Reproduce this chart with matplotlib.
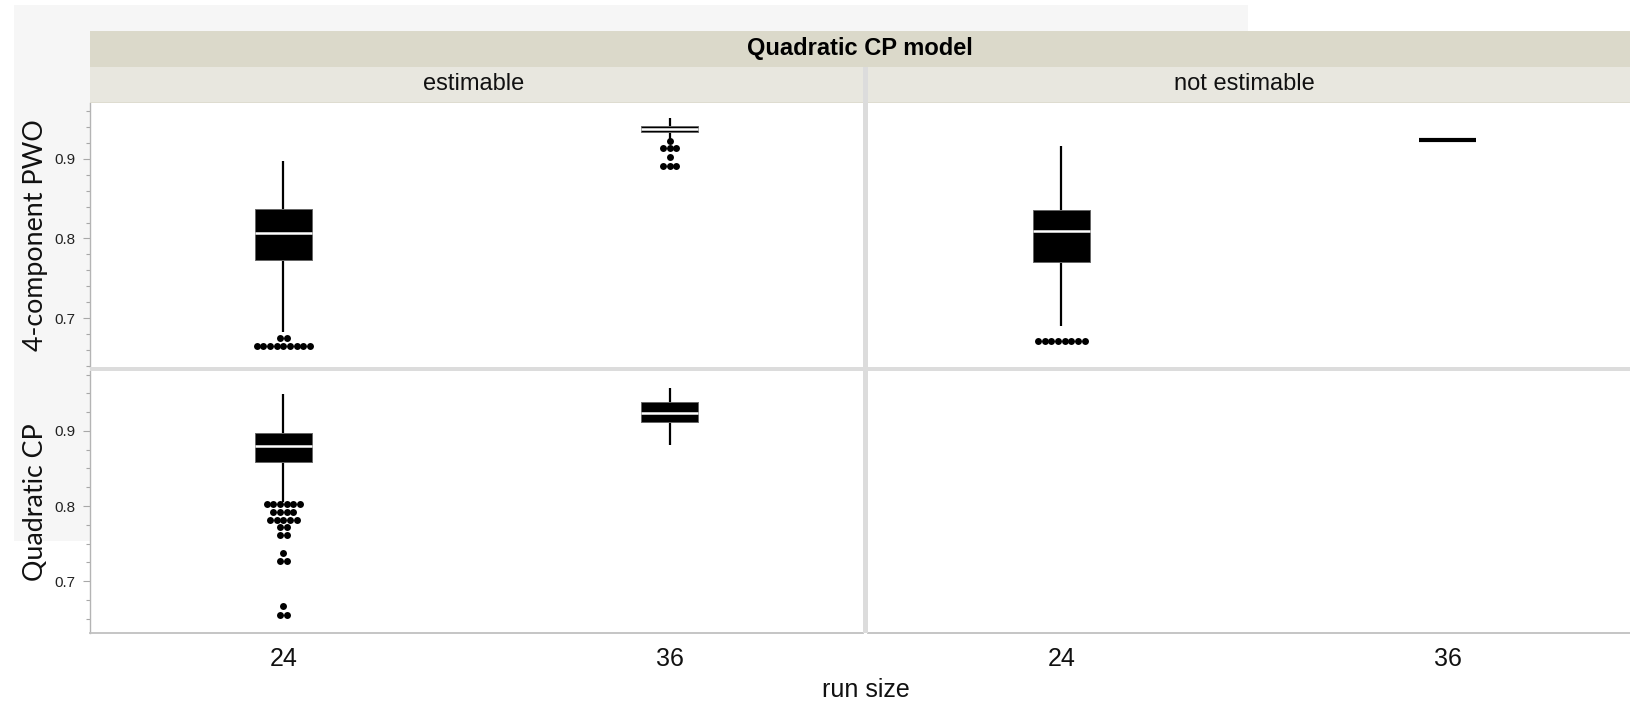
import numpy as np
import matplotlib
matplotlib.use("Agg")
import matplotlib.pyplot as plt
from matplotlib.patches import Rectangle
from matplotlib.ticker import MultipleLocator

# ---------------- data ----------------
run_sizes = ["24", "36"]
estimability = ["estimable", "not estimable"]
responses = ["4-component PWO", "Quadratic CP"]
facet_title = "Quadratic CP model"
x_title = "run size"

# 4-component PWO, estimable (run size 24, 36)
pwo_est_low = [0.682, 0.924]
pwo_est_q1 = [0.7726, 0.9344]
pwo_est_med = [0.807, 0.9378]
pwo_est_q3 = [0.8375, 0.9412]
pwo_est_high = [0.897, 0.951]
pwo_est_out_24 = [0.675] * 2 + [0.665] * 9
pwo_est_out_36 = [0.922] + [0.9134] * 3 + [0.902] + [0.8916] * 3

# 4-component PWO, not estimable
pwo_not_low = [0.690, 0.924]
pwo_not_q1 = [0.771, 0.924]
pwo_not_med = [0.810, 0.924]
pwo_not_q3 = [0.836, 0.924]
pwo_not_high = [0.9167, 0.924]
pwo_not_out_24 = [0.671] * 8
pwo_not_out_36 = []

# Quadratic CP, estimable
cp_est_low = [0.8057, 0.881]
cp_est_q1 = [0.8587, 0.9116]
cp_est_med = [0.8797, 0.9239]
cp_est_q3 = [0.897, 0.938]
cp_est_high = [0.949, 0.957]
cp_est_out_24 = ([0.8027] * 6 + [0.792] * 4 + [0.7817] * 5 + [0.7716] * 2 +
                 [0.7613] * 2 + [0.737] + [0.7267] * 2 + [0.6667] + [0.6556] * 2)
cp_est_out_36 = []

# ---------------- figure ----------------
W, H = 1631, 702
fig = plt.figure(figsize=(W / 100, H / 100), dpi=100)
fig.patch.set_facecolor("white")
TICK_FONT = "Liberation Sans"
LABEL_FONT = "Lato"


def fx(px):
    return px / W


def fy(py):
    return 1 - py / H


def add_rect(x0, y0, x1, y1, color, z=0):
    fig.patches.append(Rectangle((fx(x0), fy(y1)), fx(x1) - fx(x0), fy(y0) - fy(y1),
                                 transform=fig.transFigure, facecolor=color,
                                 edgecolor="none", zorder=z))


# light grey backdrop
add_rect(14, 5, 1248, 541, "#f6f6f6", z=-5)

L0, L1 = 90, 863
R0, R1 = 868, 1641
T0, T1 = 103, 367
B0, B1 = 371, 633

# strips
add_rect(L0, 31, R1, 67, "#dbd9ca")
add_rect(L0, 67, R1, 103, "#e8e7df")
add_rect(L0, 102, R1, 103, "#dedcd0")
# dividers
add_rect(L1, 67, R0, B1, "#dcdcdc", z=5)
add_rect(L0, T1, R1, B0, "#dcdcdc", z=5)

fig.text(fx((L0 + R1) / 2 - 6), fy(49), facet_title, ha="center", va="center",
         fontsize=17, fontweight="bold", family=TICK_FONT, color="black")
fig.text(fx((L0 + L1) / 2 - 3), fy(84), estimability[0], ha="center", va="center",
         fontsize=17, family=TICK_FONT, color="#111111")
fig.text(fx((R0 + R1) / 2 - 10), fy(84), estimability[1], ha="center", va="center",
         fontsize=17, family=TICK_FONT, color="#111111")


def make_ax(x0, x1, y0, y1):
    return fig.add_axes([fx(x0), fy(y1), fx(x1) - fx(x0), fy(y0) - fy(y1)])


ax_tl = make_ax(L0, L1, T0, T1)
ax_tr = make_ax(R0, R1, T0, T1)
ax_bl = make_ax(L0, L1, B0, B1)
ax_br = make_ax(R0, R1, B0, B1)

box_w = 0.148
dot_dx = 0.0173


def draw_group(ax, xpos, low, q1, med, q3, high, outliers):
    ax.plot([xpos, xpos], [low, high], color="black", lw=1.6, solid_capstyle="butt", zorder=2)
    degenerate = (q3 - q1) < 1e-6
    if degenerate:
        ax.plot([xpos - box_w / 2, xpos + box_w / 2], [med, med], color="black",
                lw=3.0, solid_capstyle="butt", zorder=3)
    else:
        ax.add_patch(Rectangle((xpos - box_w / 2, q1), box_w, q3 - q1,
                               facecolor="black", edgecolor="#666666", lw=0.7, zorder=3))
        ax.plot([xpos - box_w / 2, xpos + box_w / 2], [med, med], color="white",
                lw=1.8, solid_capstyle="butt", zorder=4)
    if len(outliers):
        vals, counts = np.unique(np.round(outliers, 5), return_counts=True)
        for v, c in zip(vals, counts):
            xs = xpos + (np.arange(c) - (c - 1) / 2) * dot_dx
            ax.plot(xs, [v] * c, "o", color="black", ms=5.0, mew=0, zorder=5)


def draw_panel(ax, lows, q1s, meds, q3s, highs, outs):
    for i in range(len(run_sizes)):
        draw_group(ax, i, lows[i], q1s[i], meds[i], q3s[i], highs[i], outs[i])


draw_panel(ax_tl, pwo_est_low, pwo_est_q1, pwo_est_med, pwo_est_q3, pwo_est_high,
           [pwo_est_out_24, pwo_est_out_36])
draw_panel(ax_tr, pwo_not_low, pwo_not_q1, pwo_not_med, pwo_not_q3, pwo_not_high,
           [pwo_not_out_24, pwo_not_out_36])
draw_panel(ax_bl, cp_est_low, cp_est_q1, cp_est_med, cp_est_q3, cp_est_high,
           [cp_est_out_24, cp_est_out_36])

for ax in (ax_tl, ax_tr):
    ax.set_ylim(0.6384, 0.9704)
for ax in (ax_bl, ax_br):
    ax.set_ylim(0.631, 0.9797)

for ax in (ax_tl, ax_tr, ax_bl, ax_br):
    ax.set_xlim(-0.5, 1.5)
    ax.set_facecolor("white")
    for s in ax.spines.values():
        s.set_visible(False)
    ax.set_xticks(range(len(run_sizes)))
    ax.tick_params(axis="x", length=0, labelbottom=False)
    ax.tick_params(axis="y", left=False, labelleft=False)

for ax in (ax_tl, ax_bl):
    ax.spines["left"].set_visible(True)
    ax.spines["left"].set_color("#b4b4b4")
    ax.spines["left"].set_linewidth(1.0)
    ax.yaxis.set_major_locator(MultipleLocator(0.1))
    ax.tick_params(axis="y", which="major", left=True, labelleft=True, length=5,
                   width=0.8, color="#a8a8a8", pad=5.5, labelsize=11,
                   labelcolor="#222222", labelfontfamily=TICK_FONT)
    ax.tick_params(axis="y", which="minor", left=True, length=3, width=0.8,
                   color="#a8a8a8")
    ax.yaxis.set_major_formatter(plt.FuncFormatter(lambda v, p: f"{v:.1f}"))
ax_tl.yaxis.set_minor_locator(MultipleLocator(0.02))
ax_bl.yaxis.set_minor_locator(MultipleLocator(0.025))

for ax in (ax_bl, ax_br):
    ax.spines["bottom"].set_visible(True)
    ax.spines["bottom"].set_color("#c0c0c0")
    ax.spines["bottom"].set_linewidth(1.3)
    ax.set_xticklabels(run_sizes)
    ax.tick_params(axis="x", labelbottom=True, pad=10, labelsize=18,
                   labelcolor="#111111", labelfontfamily=TICK_FONT)

fig.text(fx(36), fy((T0 + T1) / 2), responses[0], rotation=90, ha="center", va="center",
         fontsize=19.3, family=LABEL_FONT, color="#111111")
fig.text(fx(36), fy((B0 + B1) / 2), responses[1], rotation=90, ha="center", va="center",
         fontsize=19.3, family=LABEL_FONT, color="#111111")
fig.text(fx(866), fy(690), x_title, ha="center", va="center", fontsize=18,
         family=TICK_FONT, color="#111111")

fig.savefig("out.png", dpi=100)
